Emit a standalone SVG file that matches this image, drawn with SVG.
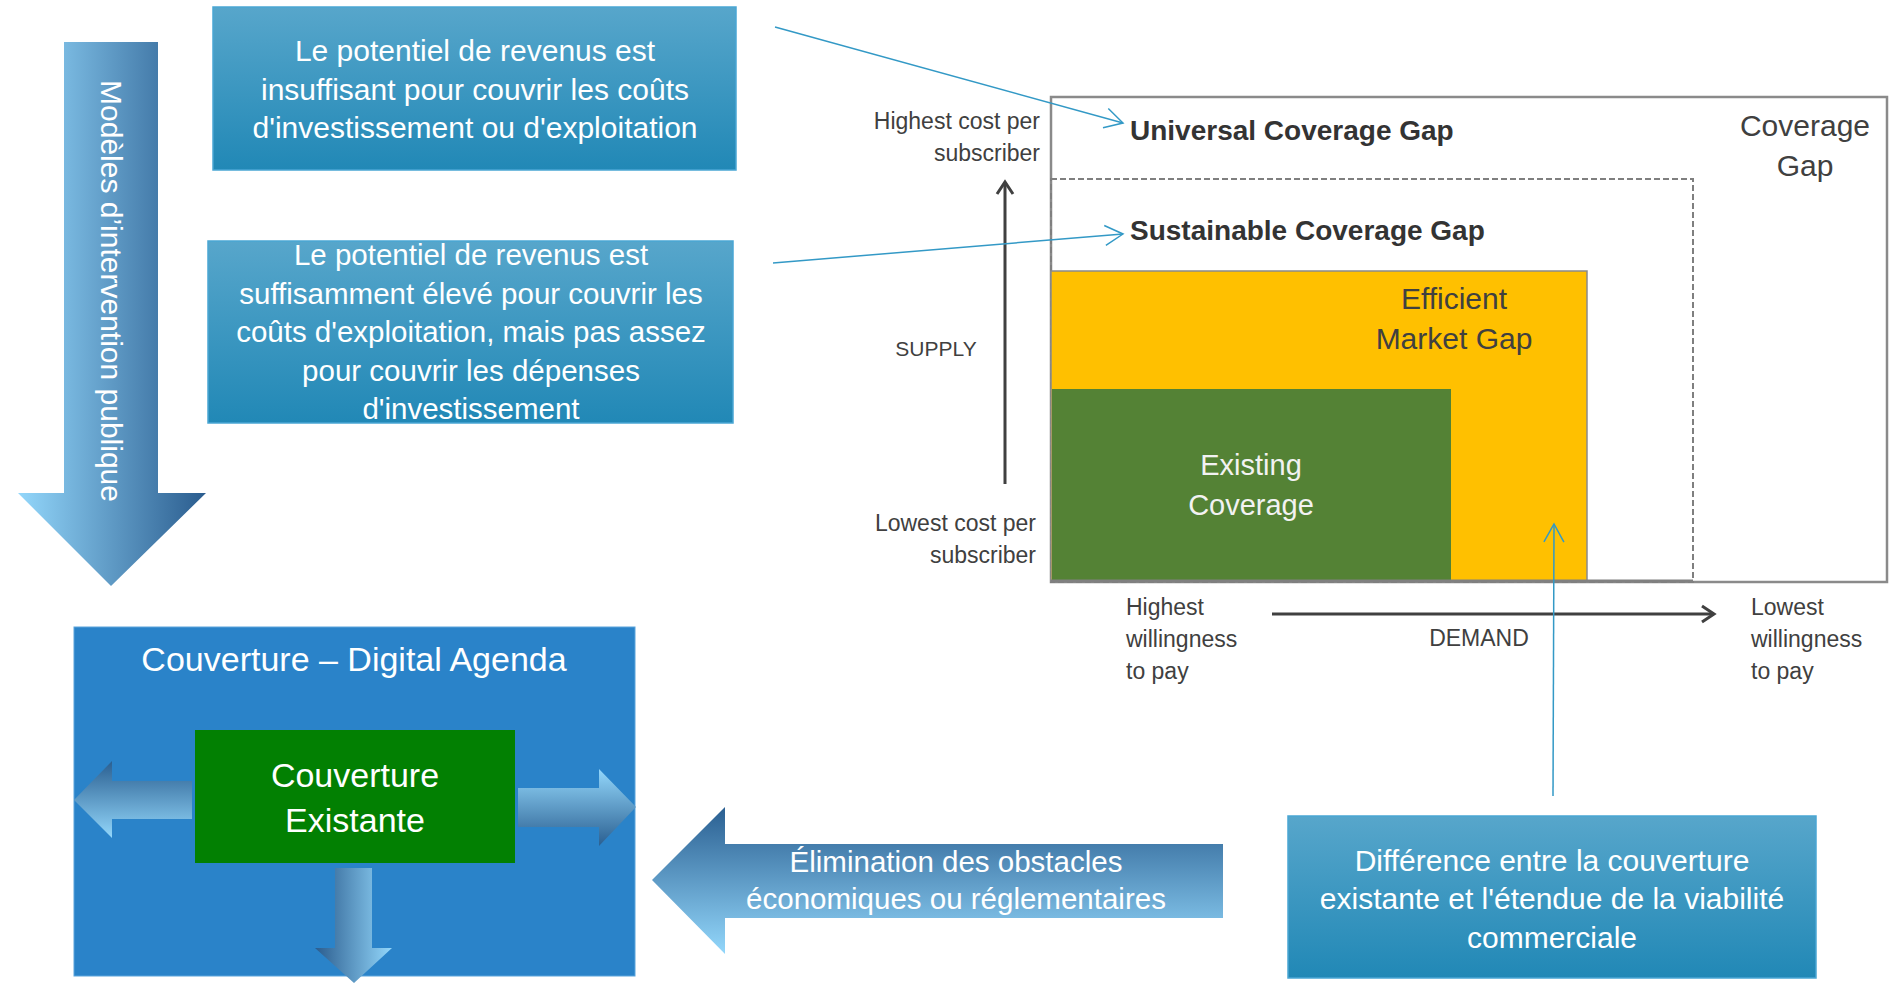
<svg xmlns="http://www.w3.org/2000/svg" width="1893" height="983" viewBox="0 0 1893 983">
<defs>
<linearGradient id="gTeal" x1="0" y1="0" x2="0" y2="1"><stop offset="0" stop-color="#57a6cb"/><stop offset="1" stop-color="#2188b6"/></linearGradient>
<linearGradient id="gLR" x1="0" y1="0" x2="1" y2="0"><stop offset="0" stop-color="#93d7fb"/><stop offset="1" stop-color="#2a5c8e"/></linearGradient>
<linearGradient id="gRL" x1="0" y1="0" x2="1" y2="0"><stop offset="0" stop-color="#2a5c8e"/><stop offset="1" stop-color="#93d7fb"/></linearGradient>
<linearGradient id="gTB" x1="0" y1="0" x2="0" y2="1"><stop offset="0" stop-color="#2a5f91"/><stop offset="1" stop-color="#93d7fb"/></linearGradient>
<linearGradient id="gBT" x1="0" y1="0" x2="0" y2="1"><stop offset="0" stop-color="#93d7fb"/><stop offset="1" stop-color="#2a5f91"/></linearGradient>
<marker id="mBlue" markerUnits="userSpaceOnUse" markerWidth="22" markerHeight="24" viewBox="0 0 22 24" refX="20" refY="12" orient="auto"><path d="M2,2 L20,12 L2,22" fill="none" stroke="#3399c6" stroke-width="1.5"/></marker>
<marker id="mGray" markerUnits="userSpaceOnUse" markerWidth="18" markerHeight="20" viewBox="0 0 18 20" refX="15" refY="10" orient="auto"><path d="M3,2 L15,10 L3,18" fill="none" stroke="#404040" stroke-width="3"/></marker>
</defs>
<style>
.t{font-family:"Liberation Sans",Arial,sans-serif;}
.w{fill:#ffffff;}
.c{text-anchor:middle;}
.dk{fill:#404040;}
.box{fill:url(#gTeal);stroke:#4aa6d4;stroke-width:1.5;}
.conn{fill:none;stroke:#3399c6;stroke-width:1.5;marker-end:url(#mBlue);}
.ax{fill:none;stroke:#404040;stroke-width:3;marker-end:url(#mGray);}
</style>

<g id="arrow-modeles">
<path d="M64,42 H158 V493 H206 L111,586 L18,493 H64 Z" fill="url(#gLR)"/>
<text class="t w c" font-size="30" transform="translate(101,291) rotate(90)">Modèles d’intervention publique</text>
</g>

<g id="box-insuffisant">
<rect class="box" x="213" y="7" width="523" height="163"/>
<text class="t w c" font-size="30" x="475" y="61">Le potentiel de revenus est</text>
<text class="t w c" font-size="30" x="475" y="100">insuffisant pour couvrir les coûts</text>
<text class="t w c" font-size="30" x="475" y="138">d'investissement ou d'exploitation</text>
</g>

<g id="box-suffisant">
<rect class="box" x="208" y="241" width="525" height="182"/>
<text class="t w c" font-size="29.5" x="471" y="265">Le potentiel de revenus est</text>
<text class="t w c" font-size="29.5" x="471" y="304">suffisamment élevé pour couvrir les</text>
<text class="t w c" font-size="29.5" x="471" y="342">coûts d'exploitation, mais pas assez</text>
<text class="t w c" font-size="29.5" x="471" y="381">pour couvrir les dépenses</text>
<text class="t w c" font-size="29.5" x="471" y="419">d'investissement</text>
</g>

<g id="chart">
<rect x="1051" y="97" width="836" height="485" fill="#ffffff" stroke="#8a8a8a" stroke-width="2.5"/>
<rect x="1051" y="179" width="642" height="403" fill="none" stroke="#7f7f7f" stroke-width="2" stroke-dasharray="6,3"/>
<rect id="efficient" x="1051" y="271" width="536" height="310" fill="#ffc000" stroke="#8a8a8a" stroke-width="1.5"/>
<rect id="existing" x="1052" y="389" width="399" height="192" fill="#548235"/>
<line x1="1051" y1="581" x2="1693" y2="581" stroke="#808080" stroke-width="3"/>
<text class="t c dk" font-size="30" x="1454" y="309">Efficient</text>
<text class="t c dk" font-size="30" x="1454" y="349">Market Gap</text>
<text class="t c" font-size="29" fill="#f2f2f2" x="1251" y="475">Existing</text>
<text class="t c" font-size="29" fill="#f2f2f2" x="1251" y="515">Coverage</text>
<text class="t c dk" font-size="30" x="1805" y="136">Coverage</text>
<text class="t c dk" font-size="30" x="1805" y="176">Gap</text>
<text class="t" font-size="28" font-weight="bold" fill="#333333" x="1130" y="140">Universal Coverage Gap</text>
<text class="t" font-size="28" font-weight="bold" fill="#333333" x="1130" y="240">Sustainable Coverage Gap</text>
<text class="t dk" font-size="23" text-anchor="end" x="1040" y="129">Highest cost per</text>
<text class="t dk" font-size="23" text-anchor="end" x="1040" y="161">subscriber</text>
<text class="t dk" font-size="23" text-anchor="end" x="1036" y="531">Lowest cost per</text>
<text class="t dk" font-size="23" text-anchor="end" x="1036" y="563">subscriber</text>
<text class="t c dk" font-size="21" x="936" y="356">SUPPLY</text>
<text class="t c dk" font-size="23" x="1479" y="646">DEMAND</text>
<text class="t dk" font-size="23" x="1126" y="615">Highest</text>
<text class="t dk" font-size="23" x="1126" y="647">willingness</text>
<text class="t dk" font-size="23" x="1126" y="679">to pay</text>
<text class="t dk" font-size="23" x="1751" y="615">Lowest</text>
<text class="t dk" font-size="23" x="1751" y="647">willingness</text>
<text class="t dk" font-size="23" x="1751" y="679">to pay</text>
<line class="ax" x1="1005" y1="484" x2="1005" y2="182"/>
<line class="ax" x1="1272" y1="614" x2="1714" y2="614"/>
</g>

<g id="box-couverture">
<rect x="74" y="627" width="561" height="349" fill="#2a83c9" stroke="#5aa4dc" stroke-width="1"/>
<text class="t w c" font-size="34" x="354" y="671">Couverture – Digital Agenda</text>
<path d="M192,781 H112 V761 L74,800 L112,838 V819 H192 Z" fill="url(#gTB)"/>
<path d="M518,788 H599 V769 L636,807 L599,846 V827 H518 Z" fill="url(#gBT)"/>
<path d="M335,868 H372 V948 H392 L354,983 L315,948 H335 Z" fill="url(#gRL)"/>
</g>

<g id="box-existante">
<rect x="195" y="730" width="320" height="133" fill="#028002"/>
<text class="t w c" font-size="34" x="355" y="787">Couverture</text>
<text class="t w c" font-size="34" x="355" y="832">Existante</text>
</g>

<g id="arrow-elimination">
<path d="M1223,844 V918 H725 V954 L652,880 L725,807 V844 Z" fill="url(#gTB)"/>
<text class="t w c" font-size="29.5" x="956" y="872">Élimination des obstacles</text>
<text class="t w c" font-size="29.5" x="956" y="909">économiques ou réglementaires</text>
</g>

<g id="box-difference">
<rect class="box" x="1288" y="816" width="528" height="162"/>
<text class="t w c" font-size="30" x="1552" y="871">Différence entre la couverture</text>
<text class="t w c" font-size="30" x="1552" y="909">existante et l'étendue de la viabilité</text>
<text class="t w c" font-size="30" x="1552" y="948">commerciale</text>
</g>

<g id="connectors">
<line class="conn" x1="775" y1="27" x2="1123" y2="123"/>
<line class="conn" x1="773" y1="263" x2="1123" y2="234"/>
<line class="conn" x1="1553" y1="796" x2="1554" y2="524"/>
</g>
</svg>
